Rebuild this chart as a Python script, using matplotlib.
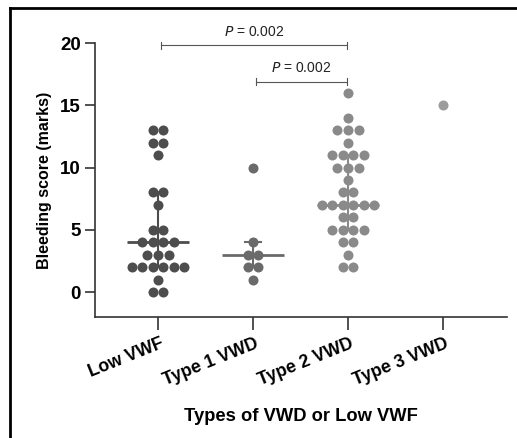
import matplotlib
matplotlib.use("Agg")
import matplotlib.pyplot as plt
from matplotlib.lines import Line2D
import matplotlib.transforms as mtransforms
import numpy as np

plt.rcParams['font.family'] = ['Liberation Sans', 'DejaVu Sans']

categories = ["Low VWF", "Type 1 VWD", "Type 2 VWD", "Type 3 VWD"]
low_vwf = [13, 13, 12, 12, 11, 8, 8, 7, 5, 5, 4, 4, 4, 4, 3, 3, 3,
           2, 2, 2, 2, 2, 2, 1, 0, 0]
type1 = [10, 4, 3, 3, 2, 2, 1]
type2 = [16, 14, 13, 13, 13, 12, 11, 11, 11, 11, 10, 10, 10, 9, 8, 8,
         7, 7, 7, 7, 7, 7, 6, 6, 5, 5, 5, 5, 4, 4, 3, 2, 2]
type3 = [15]
series = [low_vwf, type1, type2, type3]
medians = [4, 3, 7, None]
q1 = [2, 2, 5, None]
q3 = [8, 4, 11, None]
colors = ["#4d4d4d", "#6a6a6a", "#8a8a8a", "#9c9c9c"]
pvals = ["0.002", "0.002"]
comparisons = [(0, 2, 19.8), (1, 2, 16.9)]

W, H = 517, 438
fig = plt.figure(figsize=(W / 100, H / 100), dpi=100)
ax = fig.add_axes([95 / W, (H - 317) / H, 412 / W, 274 / H])

spacing = 0.111
for i, vals in enumerate(series):
    vals = np.array(vals)
    xs, ys = [], []
    for v in sorted(set(vals.tolist()), reverse=True):
        n = int((vals == v).sum())
        for k in range(n):
            xs.append(i + (k - (n - 1) / 2) * spacing)
            ys.append(v)
    ax.scatter(xs, ys, s=52, color=colors[i], zorder=3, linewidths=0)
    if medians[i] is not None:
        ax.plot([i - 0.33, i + 0.33], [medians[i]] * 2, color=colors[i], lw=2, zorder=2,
                solid_capstyle='butt')
        ax.plot([i, i], [q1[i], q3[i]], color=colors[i], lw=1.5, zorder=2)
        for q in (q1[i], q3[i]):
            ax.plot([i - 0.085, i + 0.085], [q, q], color=colors[i], lw=1.5, zorder=2)

for (a, b, y), p in zip(comparisons, pvals):
    ax.plot([a + 0.03, b - 0.01], [y, y], color="#555555", lw=0.8, clip_on=False)
    for xx in (a + 0.03, b - 0.01):
        ax.plot([xx, xx], [y - 0.3, y + 0.3], color="#555555", lw=0.8, clip_on=False)
    ax.text((a + b) / 2 + 0.01, y + 0.55, r"$\it{P}$" + " = " + p, ha="center", va="bottom",
            fontsize=10, color="#222222", clip_on=False)

ax.set_xlim(-0.663, 3.674)
ax.set_ylim(-2, 20)
ax.set_yticks([0, 5, 10, 15, 20])
ax.set_yticklabels(["0", "5", "10", "15", "20"], fontsize=13.5, fontweight="bold")
ax.set_xticks(range(4))
ax.set_xticklabels(categories, rotation=22, ha="right", rotation_mode="anchor",
                   fontsize=12.8, fontweight="bold")
ax.spines["top"].set_visible(False)
ax.spines["right"].set_visible(False)
ax.spines["left"].set_bounds(-2, 20)
for s in ("left", "bottom"):
    ax.spines[s].set_linewidth(1.2)
    ax.spines[s].set_color("#333333")
ax.tick_params(axis="y", length=7, width=1.2, color="#333333", pad=3)
ax.tick_params(axis="x", length=9, width=1.2, color="#333333", pad=4)
for lab in ax.get_xticklabels():
    lab.set_transform(lab.get_transform() + mtransforms.ScaledTranslation(0.02, 0, fig.dpi_scale_trans))
ax.set_ylabel("Bleeding score (marks)", fontsize=11.5, fontweight="bold", labelpad=6)
ax.set_xlabel("Types of VWD or Low VWF", fontsize=13.2, fontweight="bold", labelpad=14)

# figure frame (top and left edges visible)
fig.add_artist(Line2D([10 / W, 10 / W], [0, 1 - 8 / H], transform=fig.transFigure, color="black", lw=2))
fig.add_artist(Line2D([10 / W, 1], [1 - 8 / H, 1 - 8 / H], transform=fig.transFigure, color="black", lw=2))

fig.savefig("out.png", dpi=100)
